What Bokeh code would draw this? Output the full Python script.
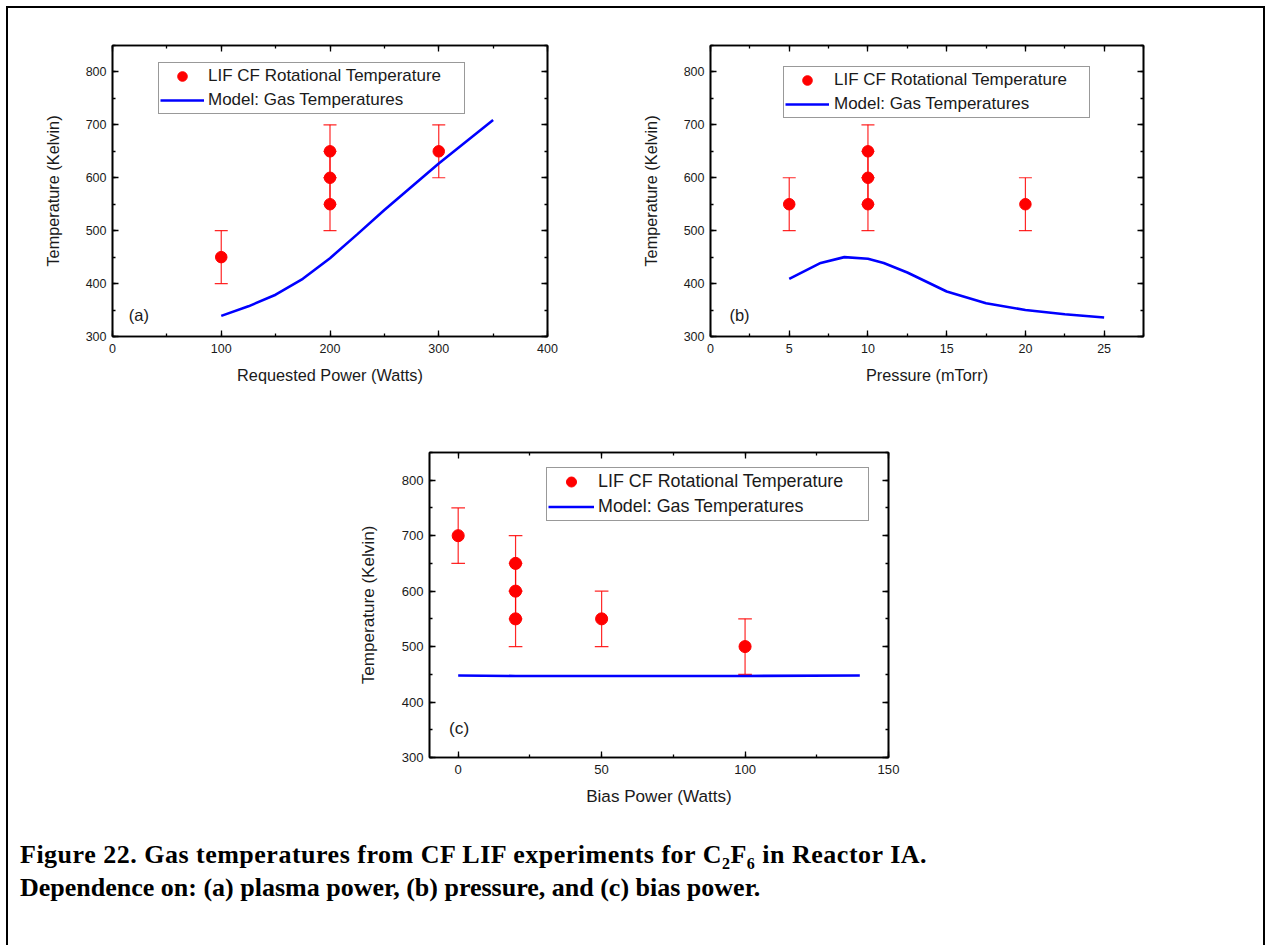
from bokeh.plotting import figure
from bokeh.models import (LinearAxis, SingleIntervalTicker, Range1d, Legend, LegendItem,
                          Whisker, TeeHead, ColumnDataSource, Label, Div)
from bokeh.layouts import row, column
from bokeh.embed import file_html
from bokeh.resources import INLINE

# ---------------- data ----------------
# (a) plasma power
a_x = [100, 200, 200, 200, 300]
a_y = [450, 650, 600, 550, 650]
a_err = [50, 50, 50, 50, 50]
a_model_x = [100, 125, 150, 175, 200, 225, 250, 275, 300, 325, 350]
a_model_y = [339, 357, 379, 409, 448, 493, 539, 583, 627, 668, 709]

# (b) pressure
b_x = [5, 10, 10, 10, 20]
b_y = [550, 650, 600, 550, 550]
b_err = [50, 50, 50, 50, 50]
b_model_x = [5, 7, 8.5, 10, 11, 12.5, 15, 17.5, 20, 22.5, 25]
b_model_y = [409, 439, 450, 447, 439, 421, 385, 363, 350, 342, 336]

# (c) bias power
c_x = [0, 20, 20, 20, 50, 100]
c_y = [700, 650, 600, 550, 550, 500]
c_err = [50, 50, 50, 50, 50, 50]
c_model_x = [0, 20, 50, 100, 140]
c_model_y = [448, 447, 447, 447, 448]

y_ticks_interval = 100
legend_labels = ["LIF CF Rotational Temperature", "Model: Gas Temperatures"]

FONT = "Liberation Sans"
TXT = "#1a1a1a"


def style_axis(ax, fs):
    ax.axis_line_color = "black"
    ax.axis_line_width = 1.6
    ax.major_tick_in = 6
    ax.major_tick_out = 0
    ax.minor_tick_in = 3
    ax.minor_tick_out = 0
    ax.major_tick_line_color = "black"
    ax.minor_tick_line_color = "black"
    ax.major_tick_line_width = 1.3
    ax.minor_tick_line_width = 1.3
    ax.major_label_text_font = FONT
    ax.major_label_text_font_size = fs
    ax.major_label_text_color = TXT
    ax.axis_label_text_font = FONT
    ax.axis_label_text_font_style = "normal"
    ax.axis_label_text_color = TXT


def panel(width, height, borders, xr, xint, xlabel, xs, ys, errs, mx, my,
          scale, leg_loc, leg_glyph_w, leg_standoff, leg_label_w, leg_row, tag, tag_xy):
    bl, br, bt, bb = borders
    p = figure(width=width, height=height, x_range=Range1d(*xr), y_range=Range1d(300, 850),
               output_backend="svg", toolbar_location=None, title=None,
               min_border_left=bl, min_border_right=br, min_border_top=bt, min_border_bottom=bb,
               background_fill_color="white", border_fill_color="white")
    p.xgrid.visible = False
    p.ygrid.visible = False
    p.outline_line_color = "black"
    p.outline_line_width = 1.6

    tfs = f"{12.5 * scale:.1f}px"
    lfs = f"{16.3 * scale:.1f}px"

    p.xaxis.ticker = SingleIntervalTicker(interval=xint, num_minor_ticks=2)
    p.yaxis.ticker = SingleIntervalTicker(interval=y_ticks_interval, num_minor_ticks=2)
    p.xaxis.axis_label = xlabel
    p.yaxis.axis_label = "Temperature (Kelvin)"
    for ax in p.xaxis + p.yaxis:
        style_axis(ax, tfs)
        ax.axis_label_text_font_size = lfs
    p.xaxis.major_label_standoff = 7
    p.xaxis.axis_label_standoff = 10
    p.yaxis.major_label_standoff = 6
    p.yaxis.axis_label_standoff = 21

    # mirrored tick-only axes on the right and top (no labels drawn)
    ra = LinearAxis(ticker=SingleIntervalTicker(interval=y_ticks_interval, num_minor_ticks=2))
    ta = LinearAxis(ticker=SingleIntervalTicker(interval=xint, num_minor_ticks=2))
    for ax in (ra, ta):
        style_axis(ax, "10px")
        ax.major_label_text_color = None
        ax.major_label_text_alpha = 0
        ax.major_label_standoff = 0
    p.add_layout(ra, "right")
    p.add_layout(ta, "above")

    lo = [y - e for y, e in zip(ys, errs)]
    hi = [y + e for y, e in zip(ys, errs)]
    src = ColumnDataSource(dict(x=xs, y=ys, lo=lo, hi=hi))
    cap = 13 * scale
    w = Whisker(source=src, base="x", upper="hi", lower="lo", line_color="red", line_width=1.2,
                line_alpha=0.85,
                upper_head=TeeHead(size=cap, line_color="red", line_width=1.2, line_alpha=0.85),
                lower_head=TeeHead(size=cap, line_color="red", line_width=1.2, line_alpha=0.85))
    p.add_layout(w)

    sc = p.scatter("x", "y", source=src, size=11.5 * scale, marker="circle",
                   fill_color="red", line_color="red")
    ln = p.line(mx, my, line_color="blue", line_width=2.6)

    leg = Legend(items=[LegendItem(label=legend_labels[0], renderers=[sc]),
                        LegendItem(label=legend_labels[1], renderers=[ln])],
                 location=leg_loc, glyph_width=leg_glyph_w, glyph_height=leg_row,
                 label_height=leg_row, label_standoff=leg_standoff, label_width=leg_label_w,
                 spacing=-1, padding=1, margin=0,
                 border_line_color="#333333", border_line_width=1.5,
                 background_fill_color="white", background_fill_alpha=1,
                 label_text_font=FONT, label_text_font_size=f"{17 * scale:.1f}px",
                 label_text_color=TXT)
    p.add_layout(leg)

    p.add_layout(Label(x=tag_xy[0], y=tag_xy[1], text=tag, text_font=FONT,
                       text_font_size=f"{16.5 * scale:.1f}px", text_baseline="middle",
                       text_align="left", text_color=TXT))
    return p


pa = panel(592, 392, (104, 53, 37, 64), (0, 400), 100, "Requested Power (Watts)",
           a_x, a_y, a_err, a_model_x, a_model_y, 1.0,
           (46, 222), 44, 4, 255, 24, "(a)", (15, 340))
pb = panel(663, 392, (110, 120, 37, 64), (0, 27.5), 5, "Pressure (mTorr)",
           b_x, b_y, b_err, b_model_x, b_model_y, 1.0,
           (73, 218), 44, 5, 254, 24, "(b)", (1.2, 340))
pc = panel(1255, 430, (421, 375, 52, 73), (-10, 150), 50, "Bias Power (Watts)",
           c_x, c_y, c_err, c_model_x, c_model_y, 1.05,
           (117, 236), 46, 4, 269, 25, "(c)", (-3.2, 353))

caption = Div(
    text=('<div style="font-family:\'Liberation Serif\',\'Times New Roman\',serif;'
          'font-weight:bold;font-size:26px;line-height:33px;color:#000;'
          'padding:8px 0 0 12px;white-space:nowrap;">'
          '<span style="letter-spacing:0.5px;">'
          'Figure 22. Gas temperatures from CF LIF experiments for '
          'C<sub style="font-size:16px;line-height:0;">2</sub>F<sub style="font-size:16px;line-height:0;">6</sub>'
          ' in Reactor IA.</span><br>'
          'Dependence on: (a) plasma power, (b) pressure, and (c) bias power.</div>'),
    width=1255, height=115, margin=0)

root = column(row(pa, pb, spacing=0), pc, caption, spacing=0, margin=(8, 0, 0, 8),
              styles={"outline": "2px solid black"})

open("out.html", "w").write(file_html(root, INLINE))
